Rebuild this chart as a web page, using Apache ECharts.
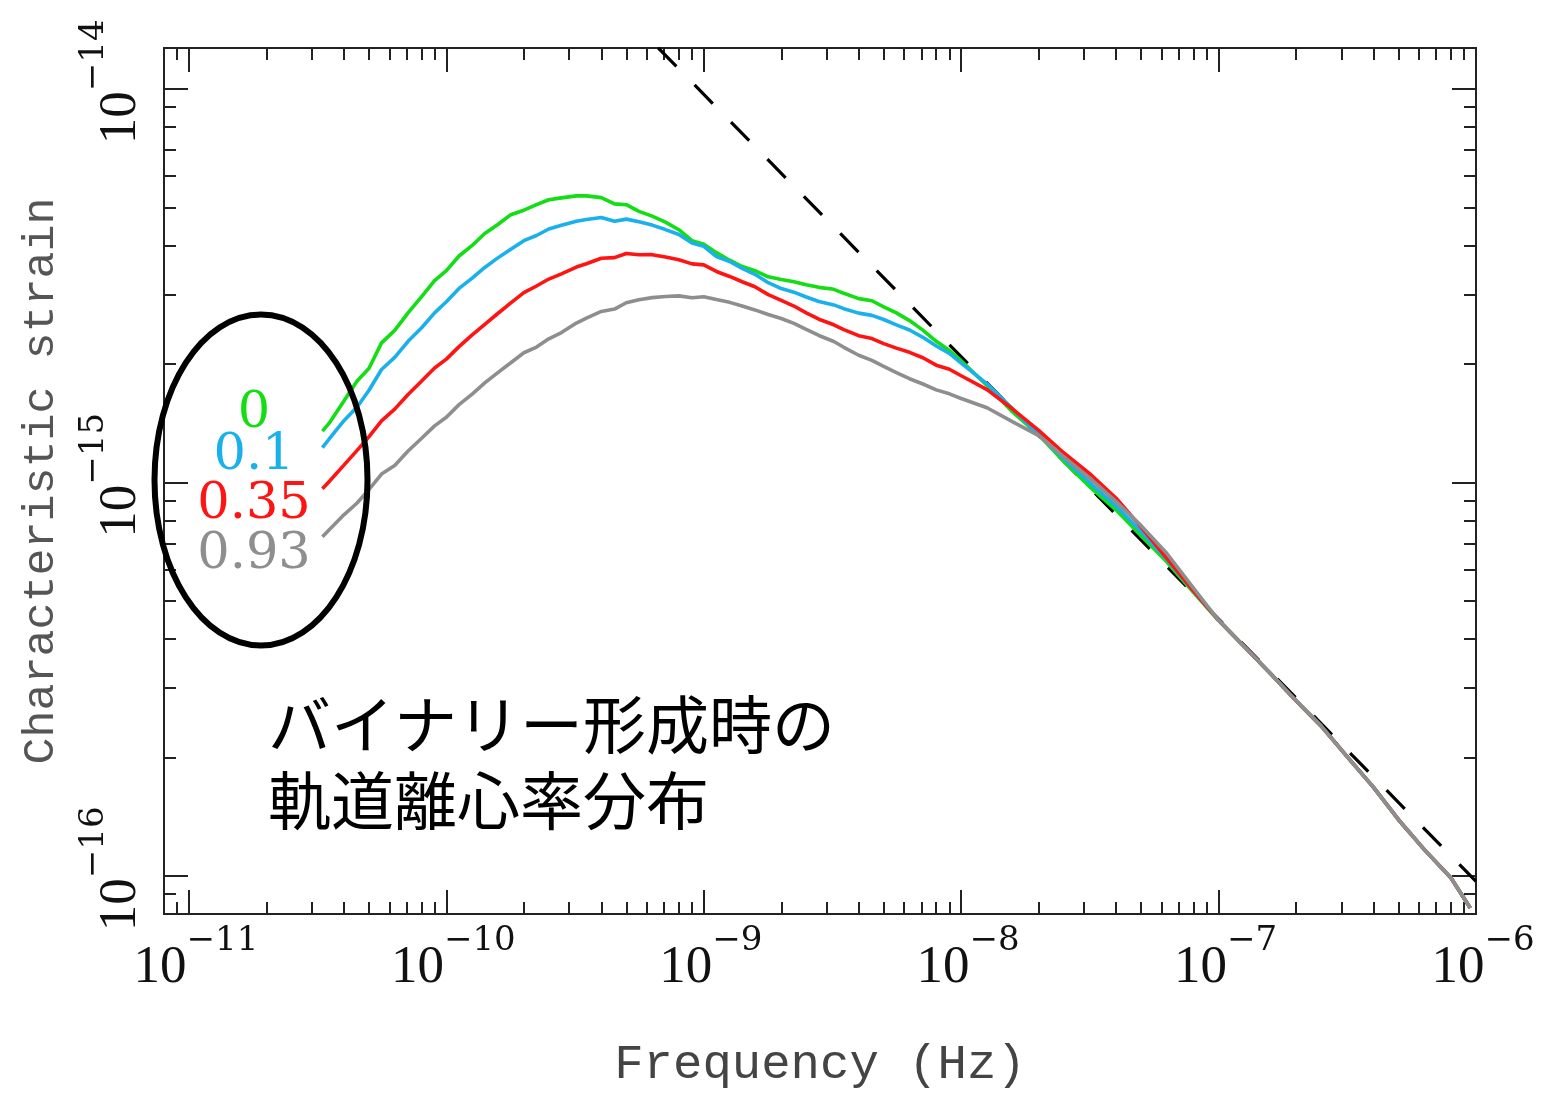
<!DOCTYPE html>
<html>
<head>
<meta charset="utf-8">
<script src="https://cdn.jsdelivr.net/npm/echarts@6/dist/echarts.min.js"></script>
<style>
html,body{margin:0;padding:0;background:#ffffff;}
#chart{width:1549px;height:1095px;}
</style>
</head>
<body>
<div id="chart"></div>
<script>
// ---------------- DATA ----------------
// Frequency samples (Hz)
const freqHz = [
  3.3e-11, 3.5e-11, 4.0e-11, 4.5e-11, 5.0e-11, 5.6e-11, 6.3e-11, 7.1e-11, 8.0e-11, 9.0e-11,
  1.0e-10, 1.12e-10, 1.26e-10, 1.41e-10, 1.58e-10, 1.78e-10, 2.0e-10, 2.24e-10, 2.5e-10, 2.8e-10,
  3.2e-10, 3.5e-10, 4.0e-10, 4.5e-10, 5.0e-10, 5.6e-10, 6.3e-10, 7.1e-10, 8.0e-10, 9.0e-10,
  1.0e-9, 1.12e-9, 1.26e-9, 1.41e-9, 1.58e-9, 1.78e-9, 2.0e-9, 2.24e-9, 2.5e-9, 2.8e-9,
  3.2e-9, 3.5e-9, 4.0e-9, 4.5e-9, 5.0e-9, 5.6e-9, 6.3e-9, 7.1e-9, 8.0e-9, 9.0e-9,
  1.0e-8, 1.26e-8, 1.58e-8, 2.0e-8, 2.5e-8, 3.2e-8, 4.0e-8, 5.0e-8, 6.3e-8, 8.0e-8,
  1.0e-7, 1.26e-7, 1.58e-7, 2.0e-7, 2.5e-7, 3.2e-7, 4.0e-7, 5.0e-7, 6.3e-7, 8.0e-7, 9.5e-7
];
// Characteristic strain, in units of 1e-15
const strainUnit = 1e-15;
const strainEcc0 = [
  1.349, 1.412, 1.610, 1.810, 1.946, 2.262, 2.434, 2.697, 2.962, 3.254,
  3.453, 3.760, 4.000, 4.290, 4.515, 4.789, 4.916, 5.077, 5.226, 5.284,
  5.346, 5.346, 5.291, 5.101, 5.077, 4.882, 4.748, 4.585, 4.386, 4.114,
  4.026, 3.835, 3.669, 3.535, 3.451, 3.330, 3.279, 3.235, 3.178, 3.130,
  3.094, 3.023, 2.930, 2.894, 2.793, 2.695, 2.577, 2.437, 2.283, 2.162,
  2.038, 1.762, 1.512, 1.321, 1.132, 0.9667, 0.8504, 0.7317, 0.6275, 0.5246,
  0.4457, 0.3824, 0.3283, 0.2785, 0.2405, 0.1989, 0.1679, 0.1389, 0.1166, 0.0988, 0.0829
];
const strainEcc01 = [
  1.225, 1.287, 1.435, 1.554, 1.712, 1.936, 2.078, 2.283, 2.467, 2.695,
  2.877, 3.111, 3.305, 3.516, 3.714, 3.914, 4.114, 4.240, 4.404, 4.502,
  4.608, 4.654, 4.708, 4.606, 4.666, 4.592, 4.505, 4.389, 4.263, 4.057,
  3.981, 3.749, 3.641, 3.497, 3.378, 3.216, 3.108, 3.043, 2.959, 2.882,
  2.824, 2.763, 2.692, 2.657, 2.593, 2.514, 2.439, 2.336, 2.221, 2.126,
  2.008, 1.779, 1.541, 1.321, 1.150, 0.9895, 0.8703, 0.7489, 0.6368, 0.5292,
  0.4467, 0.3824, 0.3283, 0.2785, 0.2405, 0.1989, 0.1679, 0.1389, 0.1166, 0.0988, 0.0829
];
const strainEcc035 = [
  0.9628, 1.004, 1.106, 1.206, 1.305, 1.433, 1.535, 1.672, 1.807, 1.953,
  2.057, 2.213, 2.371, 2.520, 2.682, 2.857, 3.034, 3.155, 3.286, 3.388,
  3.525, 3.595, 3.710, 3.725, 3.817, 3.788, 3.790, 3.738, 3.679, 3.591,
  3.570, 3.435, 3.336, 3.235, 3.141, 2.999, 2.901, 2.806, 2.695, 2.598,
  2.514, 2.445, 2.359, 2.320, 2.252, 2.193, 2.140, 2.073, 1.985, 1.938,
  1.866, 1.721, 1.538, 1.356, 1.189, 1.044, 0.9110, 0.7697, 0.6409, 0.5292,
  0.4462, 0.3824, 0.3283, 0.2785, 0.2405, 0.1989, 0.1679, 0.1389, 0.1166, 0.0988, 0.0829
];
const strainEcc093 = [
  0.7270, 0.7568, 0.8268, 0.8863, 0.9583, 1.050, 1.104, 1.201, 1.293, 1.392,
  1.464, 1.576, 1.675, 1.789, 1.898, 2.014, 2.135, 2.207, 2.316, 2.402,
  2.540, 2.614, 2.718, 2.757, 2.861, 2.911, 2.947, 2.966, 2.978, 2.944,
  2.964, 2.914, 2.867, 2.806, 2.743, 2.671, 2.609, 2.536, 2.447, 2.362,
  2.280, 2.204, 2.104, 2.041, 1.971, 1.900, 1.834, 1.778, 1.718, 1.679,
  1.633, 1.547, 1.427, 1.315, 1.163, 1.018, 0.8936, 0.7762, 0.6595, 0.5380,
  0.4462, 0.3824, 0.3283, 0.2785, 0.2405, 0.1989, 0.1679, 0.1389, 0.1166, 0.0988, 0.0829
];
// Dashed power-law reference line (f^-2/3)
const powerLawFreq = [6.65e-10, 1.0e-6];
const powerLawStrain = [1.271e-14, 9.68e-17];

const eccLabels = ['0', '0.1', '0.35', '0.93'];
const seriesColors = ['#13dd13', '#1ab0ec', '#ff1414', '#8e8e8e'];
const annotationText = 'バイナリー形成時の\n軌道離心率分布';

// Axes (log10 decades)
const xRange = [8e-12, 1e-6];
const yRange = [8e-17, 1.27e-14];
const xMajorExp = [-11, -10, -9, -8, -7, -6];
const yMajorExp = [-16, -15, -14];
const minorMultipliers = [2, 3, 4, 5, 6, 7, 8, 9];
const xTitle = 'Frequency (Hz)';
const yTitle = 'Characteristic strain';

// ---------------- BUILD ----------------
const lg = Math.log10;
const xMin = lg(xRange[0]), xMax = lg(xRange[1]);
const yMin = lg(yRange[0]), yMax = lg(yRange[1]);

function minorTicks(lo, hi) {
  const out = [];
  for (let d = Math.floor(lo) - 1; d <= Math.ceil(hi); d++) {
    minorMultipliers.forEach(k => {
      const v = d + lg(k);
      if (v >= lo - 1e-9 && v <= hi + 1e-9) out.push(v);
    });
  }
  return out;
}
const xMinor = minorTicks(xMin, xMax);
const yMinor = minorTicks(yMin, yMax);

const AXIS_COLOR = '#222';
const labelRich = {
  b: { fontFamily: 'Liberation Serif', fontSize: 53, lineHeight: 71, verticalAlign: 'bottom', color: '#111', padding: [0, 0, 0, 14] },
  s: { fontFamily: 'DejaVu Serif', fontSize: 34, lineHeight: 34, verticalAlign: 'top', color: '#111' }
};
function expLabel(v) {
  const e = Math.round(v);
  return '{b|10}{s|\u2212' + Math.abs(e) + '}';
}

function makeAxis(kind, position, major, withLabels, min, max, majorVals, minorVals) {
  const ax = {
    type: 'value',
    position: position,
    min: min,
    max: max,
    splitLine: { show: false },
    axisLine: { show: true, onZero: false, lineStyle: { color: AXIS_COLOR, width: 2 } },
    axisTick: {
      show: true, inside: true,
      length: major ? 24 : 12,
      customValues: major ? majorVals : minorVals,
      lineStyle: { color: AXIS_COLOR, width: 2 }
    },
    axisLabel: { show: false },
    axisPointer: { show: false }
  };
  if (withLabels) {
    ax.axisLabel = {
      show: true,
      customValues: majorVals,
      formatter: expLabel,
      rich: labelRich,
      margin: kind === 'x' ? 10 : 16,
      rotate: kind === 'x' ? 0 : 90
    };
  }
  return ax;
}

const xAxes = [
  makeAxis('x', 'bottom', true, true, xMin, xMax, xMajorExp, xMinor),
  makeAxis('x', 'bottom', false, false, xMin, xMax, xMajorExp, xMinor),
  makeAxis('x', 'top', true, false, xMin, xMax, xMajorExp, xMinor),
  makeAxis('x', 'top', false, false, xMin, xMax, xMajorExp, xMinor)
];
const yAxes = [
  makeAxis('y', 'left', true, true, yMin, yMax, yMajorExp, yMinor),
  makeAxis('y', 'left', false, false, yMin, yMax, yMajorExp, yMinor),
  makeAxis('y', 'right', true, false, yMin, yMax, yMajorExp, yMinor),
  makeAxis('y', 'right', false, false, yMin, yMax, yMajorExp, yMinor)
];
xAxes[0].name = xTitle;
xAxes[0].nameLocation = 'middle';
xAxes[0].nameGap = 127;
xAxes[0].nameTextStyle = { fontFamily: 'Liberation Mono', fontSize: 49, color: '#444' };
yAxes[0].name = yTitle;
yAxes[0].nameLocation = 'middle';
yAxes[0].nameGap = 100;
yAxes[0].nameTextStyle = { fontFamily: 'Liberation Mono', fontSize: 45, color: '#555' };

function toPoints(fs, hs, unit) {
  return fs.map((f, i) => [lg(f), lg(hs[i] * unit)]);
}

const series = [{
  name: 'power law',
  type: 'line',
  data: toPoints(powerLawFreq, powerLawStrain, 1),
  showSymbol: false,
  symbol: 'none',
  clip: true,
  lineStyle: { color: '#000', width: 3.2, type: [26, 26] },
  z: 1
}];
const curveSets = [strainEcc0, strainEcc01, strainEcc035, strainEcc093];
curveSets.forEach((vals, i) => series.push({
  name: eccLabels[i],
  type: 'line',
  data: toPoints(freqHz, vals, strainUnit),
  showSymbol: false,
  symbol: 'none',
  clip: true,
  lineStyle: { color: seriesColors[i], width: 3.6 },
  z: 2 + i
}));

const labelCenters = [[254, 414], [254, 456], [254, 505], [254, 555]];
const graphics = [
  {
    type: 'ellipse',
    shape: { cx: 261, cy: 480, rx: 106.5, ry: 165.5 },
    style: { fill: 'none', stroke: '#000', lineWidth: 6 },
    z: 100
  },
  {
    type: 'text',
    left: 268,
    top: 686,
    style: {
      text: annotationText,
      fontFamily: '"Noto Sans CJK JP"',
      fontSize: 63,
      lineHeight: 76,
      fill: '#000'
    },
    z: 100
  }
];
eccLabels.forEach((t, i) => {
  graphics.push({
    type: 'text',
    x: labelCenters[i][0],
    y: labelCenters[i][1],
    style: {
      text: t,
      fontFamily: 'DejaVu Serif',
      fontSize: 51,
      fill: seriesColors[i],
      align: 'center',
      verticalAlign: 'middle'
    },
    z: 100
  });
});

const chart = echarts.init(document.getElementById('chart'), null, { renderer: 'canvas' });
chart.setOption({
  animation: false,
  backgroundColor: '#ffffff',
  grid: { left: 164, top: 48, right: 73, bottom: 178, containLabel: false },
  xAxis: xAxes,
  yAxis: yAxes,
  series: series,
  graphic: graphics
});
</script>
</body>
</html>
